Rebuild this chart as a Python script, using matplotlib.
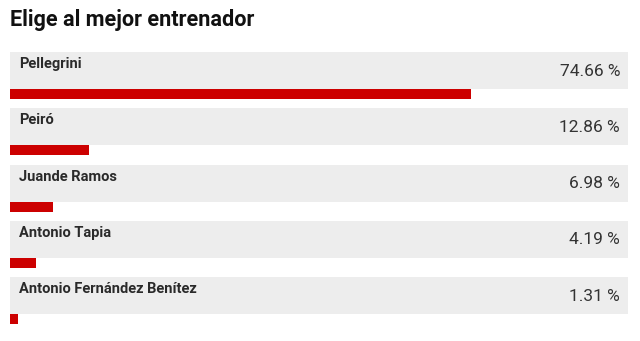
import numpy as np
import matplotlib.pyplot as plt

plt.rcParams['font.family'] = ['Roboto', 'DejaVu Sans']

title = "Elige al mejor entrenador"
names = ["Pellegrini", "Peiró", "Juande Ramos", "Antonio Tapia", "Antonio Fernández Benítez"]
pcts = [74.66, 12.86, 6.98, 4.19, 1.31]
labels = ["74.66 %", "12.86 %", "6.98 %", "4.19 %", "1.31 %"]

# layout in pixels
x0, full_w = 10, 618
row_top0, row_step = 52, 56.3
band_h, bar_h = 37, 10

fig = plt.figure(figsize=(6.4, 3.41), dpi=100)
ax = fig.add_axes([0, 0, 1, 1])
ax.set_xlim(0, 640)
ax.set_ylim(341, 0)
ax.axis("off")

tops = row_top0 + row_step * np.arange(len(names))
ax.barh(tops + band_h / 2, full_w, height=band_h, left=x0, color="#ededed")
ax.barh(tops + band_h + bar_h / 2, np.array(pcts) / 100 * full_w, height=bar_h,
        left=x0, color="#cc0000")

for t, n, l in zip(tops, names, labels):
    ax.text(x0 + 9, t + 12, n, fontsize=10.5, fontweight="bold", color="#2a2a2a",
            ha="left", va="center")
    ax.text(x0 + full_w - 8, t + 19, l, fontsize=12.5, color="#333333",
            ha="right", va="center")

ax.text(x0, 20, title, fontsize=15.6, fontweight="bold", color="#111111",
        ha="left", va="center")

fig.savefig("out.png", dpi=100)
